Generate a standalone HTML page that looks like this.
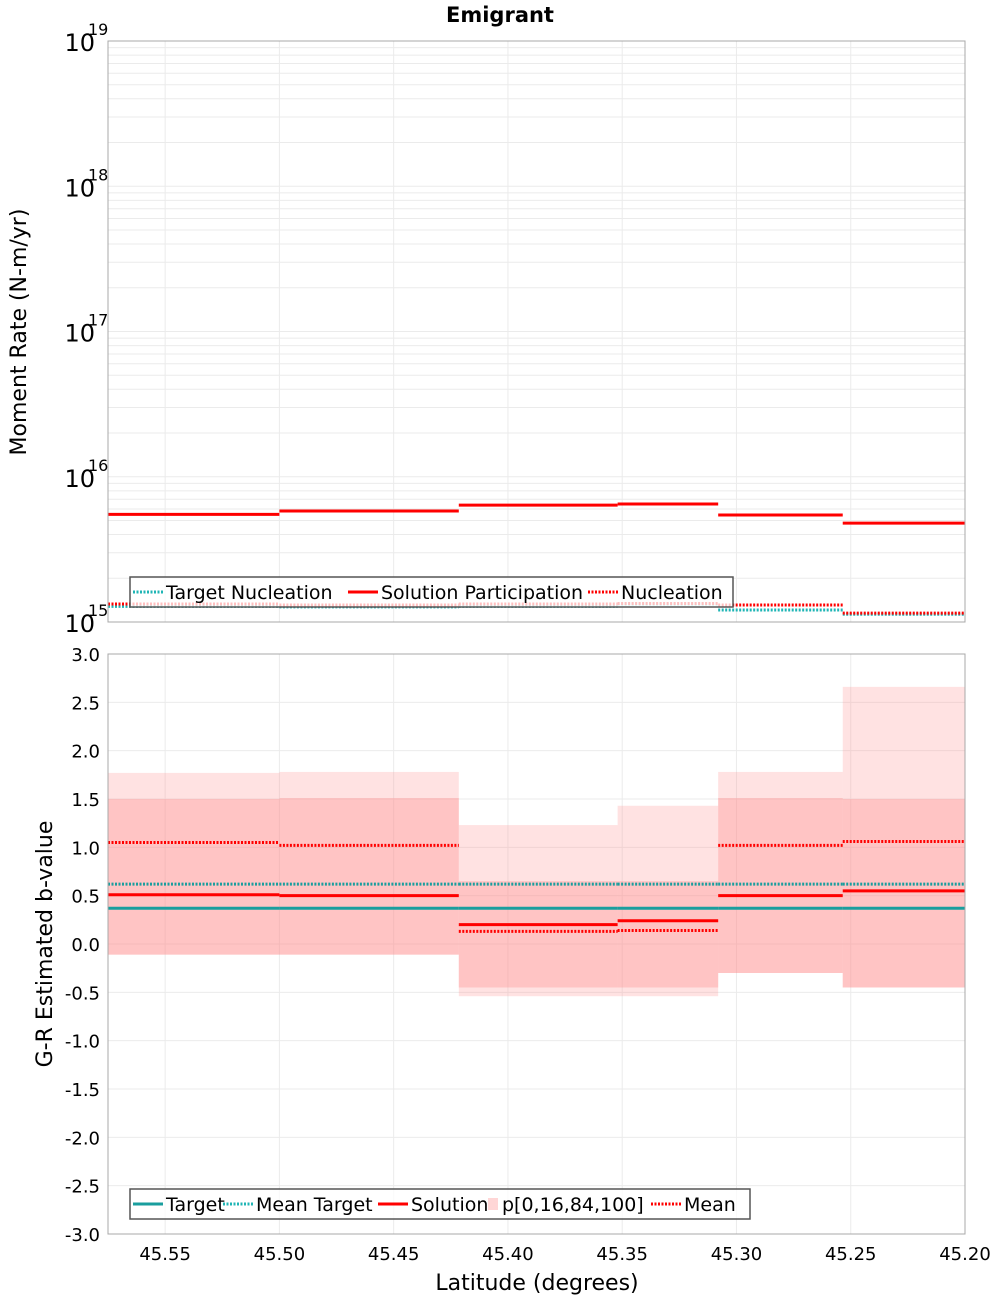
<!DOCTYPE html>
<html><head><meta charset="utf-8"><style>
body{margin:0;background:#fff;}
svg text{font-family:"DejaVu Sans","Liberation Sans",sans-serif;}
</style></head><body>
<svg id="chart" width="1000" height="1300" xmlns="http://www.w3.org/2000/svg">
<text x="500" y="22" text-anchor="middle" font-size="21" font-weight="bold">Emigrant</text>
<g id="topPanel"></g>
<g id="botPanel"></g>
<text transform="translate(26,332) rotate(-90)" text-anchor="middle" font-size="22">Moment Rate (N-m/yr)</text>
<text transform="translate(52,944) rotate(-90)" text-anchor="middle" font-size="22">G-R Estimated b-value</text>
<text x="537" y="1290" text-anchor="middle" font-size="22">Latitude (degrees)</text>
</svg>
<script>
const edges=[45.575,45.50,45.4215,45.352,45.308,45.2535,45.20];
const xTicks=[45.55,45.50,45.45,45.40,45.35,45.30,45.25,45.20];
const xTickLabels=["45.55","45.50","45.45","45.40","45.35","45.30","45.25","45.20"];
const solPart=[5.51e15,5.81e15,6.38e15,6.49e15,5.45e15,4.79e15];
const nucl=[1.33e15,1.31e15,1.33e15,1.34e15,1.31e15,1.15e15];
const targNucl=[1.28e15,1.27e15,1.28e15,1.33e15,1.21e15,1.13e15];
const yTopExps=[15,16,17,18,19];
const bTarget=[0.37,0.37,0.37,0.37,0.37,0.37];
const bMeanTarget=[0.62,0.62,0.62,0.62,0.62,0.62];
const bSolution=[0.51,0.50,0.20,0.24,0.50,0.55];
const bMean=[1.05,1.02,0.13,0.14,1.02,1.06];
const p0=[-0.11,-0.11,-0.54,-0.54,-0.30,-0.45];
const p16=[-0.11,-0.11,-0.45,-0.45,-0.30,-0.45];
const p84=[1.50,1.51,0.65,0.65,1.51,1.50];
const p100=[1.77,1.78,1.23,1.43,1.78,2.66];
const bTicks=[3.0,2.5,2.0,1.5,1.0,0.5,0.0,-0.5,-1.0,-1.5,-2.0,-2.5,-3.0];

const NS="http://www.w3.org/2000/svg";
const L=108,R=965,T1=41,B1=622,T2=654,B2=1234;
const xs=v=>L+(45.575-v)/(45.575-45.20)*(R-L);
const ysTop=v=>B1-Math.log10(v/1e15)/4*(B1-T1);
const ysBot=v=>T2+(3-v)/6*(B2-T2);
function el(parent,tag,attrs,name){const e=document.createElementNS(NS,tag);for(const k in attrs)e.setAttribute(k,attrs[k]);


parent.appendChild(e);return e;}
const topG=document.getElementById('topPanel'),botG=document.getElementById('botPanel');
for(let d=15;d<19;d++){for(let m=1;m<10;m++){const y=ysTop(m*Math.pow(10,d));el(topG,'line',{x1:L,x2:R,y1:y,y2:y,stroke:'#ebebeb','stroke-width':1},'top-grid-h');}}
xTicks.forEach(t=>{const x=xs(t);el(topG,'line',{x1:x,x2:x,y1:T1,y2:B1,stroke:'#ebebeb'},'top-grid-v');el(botG,'line',{x1:x,x2:x,y1:T2,y2:B2,stroke:'#ebebeb'},'bottom-grid-v');});
bTicks.forEach(t=>{const y=ysBot(t);el(botG,'line',{x1:L,x2:R,y1:y,y2:y,stroke:'#ebebeb'},'bottom-grid-h');});
yTopExps.forEach(e=>{const y=ysTop(Math.pow(10,e));const t=el(topG,'text',{x:95,y:y+10,'text-anchor':'end','font-size':24},'top-y-tick-label');t.textContent='10';
const s=el(topG,'text',{x:88,y:y-6,'font-size':16},'top-y-tick-exponent');s.textContent=String(e);});
function steps(parent,arr,ys,attrs,name){arr.forEach((v,i)=>{const y=ys(v);el(parent,'line',Object.assign({x1:xs(edges[i]),x2:xs(edges[i+1]),y1:y,y2:y},attrs),name);});}
const dotStyle={'stroke-width':3,'stroke-dasharray':'2,1.5'};
steps(topG,targNucl,ysTop,Object.assign({stroke:'#1fb5b5'},dotStyle),'target-nucleation-line');
steps(topG,nucl,ysTop,Object.assign({stroke:'#ff0000'},dotStyle),'nucleation-line');
steps(topG,solPart,ysTop,{stroke:'#ff0000','stroke-width':3},'solution-participation-line');
for(let i=0;i<6;i++){const x=xs(edges[i]),w=xs(edges[i+1])-x;
el(botG,'rect',{x:x,y:ysBot(p100[i]),width:w,height:ysBot(p0[i])-ysBot(p100[i]),fill:'rgba(255,150,150,0.28)'},'p0-100-band');
el(botG,'rect',{x:x,y:ysBot(p84[i]),width:w,height:ysBot(p16[i])-ysBot(p84[i]),fill:'rgba(255,140,140,0.35)'},'p16-84-band');}
steps(botG,bTarget,ysBot,{stroke:'#1a9e9e','stroke-width':3},'target-line');
steps(botG,bMeanTarget,ysBot,Object.assign({stroke:'#1a9e9e'},dotStyle),'mean-target-line');
steps(botG,bSolution,ysBot,{stroke:'#ff0000','stroke-width':3},'solution-line');
steps(botG,bMean,ysBot,Object.assign({stroke:'#ff0000'},dotStyle),'mean-line');
bTicks.forEach(t=>{const tx=el(botG,'text',{x:100,y:ysBot(t)+7,'text-anchor':'end','font-size':18},'bottom-y-tick-label');tx.textContent=t.toFixed(1);});
xTicks.forEach((t,i)=>{const tx=el(botG,'text',{x:xs(t),y:1260,'text-anchor':'middle','font-size':18},'x-tick-label');tx.textContent=xTickLabels[i];});
el(topG,'rect',{x:L,y:T1,width:R-L,height:B1-T1,fill:'none',stroke:'#a8a8a8'},'top-plot-frame');
el(botG,'rect',{x:L,y:T2,width:R-L,height:B2-T2,fill:'none',stroke:'#a8a8a8'},'bottom-plot-frame');
function legend(parent,x,y,w,items,name){const g=el(parent,'g',{},name);
el(g,'rect',{x:x,y:y,width:w,height:30,fill:'rgba(255,255,255,0.75)',stroke:'#555','stroke-width':1.5},'legend-box');
let cx=x+3;items.forEach(it=>{const ly=y+15;
if(it.type==='rect')el(g,'rect',{x:cx+2,y:ly-6,width:10,height:12,fill:'#ffd6d6'},'legend-swatch');
else el(g,'line',Object.assign({x1:cx,x2:cx+30,y1:ly,y2:ly,stroke:it.c,'stroke-width':3},it.type==='dot'?{'stroke-dasharray':'2,1.5'}:{}),'legend-swatch');
const t=el(g,'text',{x:cx+(it.type==='rect'?16:33),y:ly+7,'font-size':19},'legend-label');t.textContent=it.t;cx+=it.w;});}
legend(topG,130,577,603,[{t:'Target Nucleation',c:'#1fb5b5',type:'dot',w:215},{t:'Solution Participation',c:'#ff0000',type:'line',w:240},{t:'Nucleation',c:'#ff0000',type:'dot',w:140}],'top-legend');
legend(botG,130,1189,620,[{t:'Target',c:'#1a9e9e',type:'line',w:90},{t:'Mean Target',c:'#1fb5b5',type:'dot',w:155},{t:'Solution',c:'#ff0000',type:'line',w:108},{t:'p[0,16,84,100]',c:'#ffd6d6',type:'rect',w:165},{t:'Mean',c:'#ff0000',type:'dot',w:90}],'bottom-legend');
</script>
</body></html>
